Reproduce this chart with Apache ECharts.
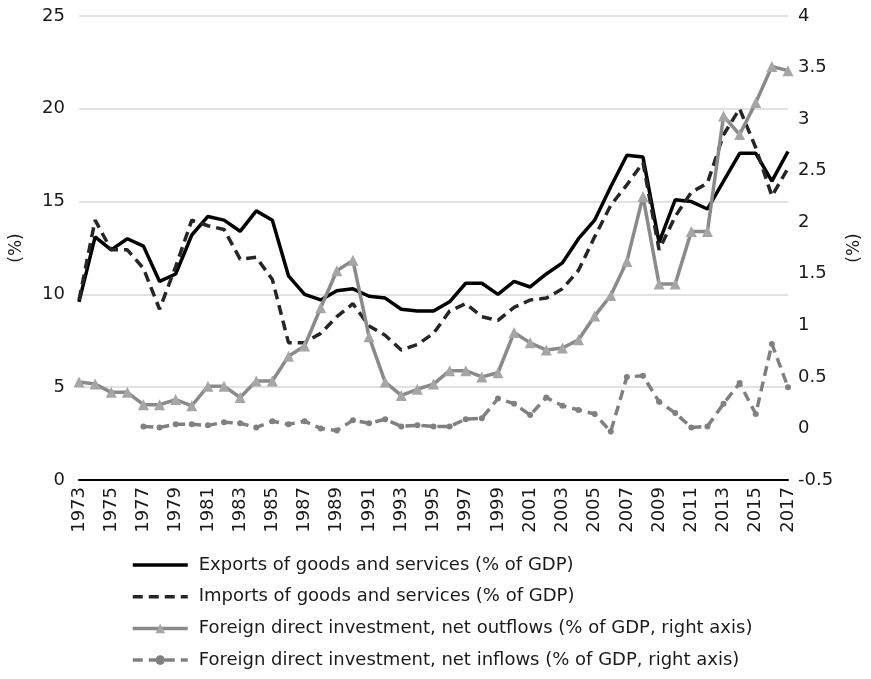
<!DOCTYPE html>
<html><head><meta charset="utf-8">
<script src="https://cdn.jsdelivr.net/npm/echarts@6/dist/echarts.min.js"></script>
<style>html,body{margin:0;padding:0;background:#fff}#c{width:871px;height:679px}</style>
</head><body><div id="c"></div>
<script>
const years = [];
for (let y = 1973; y <= 2017; y++) years.push(String(y));
const exportsGDP = [9.6,13.1,12.4,13.0,12.6,10.7,11.1,13.2,14.2,14.0,13.4,14.5,14.0,11.0,10.0,9.7,10.2,10.3,9.9,9.8,9.2,9.1,9.1,9.6,10.6,10.6,10.0,10.7,10.4,11.1,11.7,13.0,14.0,15.8,17.5,17.4,12.8,15.1,15.0,14.6,16.1,17.6,17.6,16.1,17.7];
const importsGDP = [9.7,14.0,12.4,12.4,11.4,9.2,11.5,14.0,13.7,13.5,11.9,12.0,10.8,7.4,7.4,7.9,8.8,9.5,8.3,7.8,7.0,7.3,7.9,9.1,9.5,8.8,8.6,9.3,9.7,9.8,10.3,11.3,13.1,14.8,15.9,17.1,12.4,14.2,15.5,16.0,18.6,20.0,17.9,15.3,16.8];
const fdiOut = [0.45,0.43,0.35,0.35,0.23,0.23,0.28,0.22,0.41,0.41,0.30,0.46,0.46,0.70,0.80,1.17,1.53,1.63,0.89,0.45,0.32,0.38,0.43,0.56,0.56,0.50,0.54,0.93,0.83,0.76,0.78,0.86,1.09,1.29,1.62,2.25,1.40,1.40,1.91,1.91,3.03,2.85,3.16,3.51,3.47];
const fdiIn = [null,null,null,null,0.02,0.01,0.04,0.04,0.03,0.06,0.05,0.01,0.07,0.04,0.07,0.00,-0.02,0.08,0.05,0.09,0.02,0.03,0.02,0.02,0.09,0.10,0.29,0.24,0.13,0.30,0.22,0.18,0.14,-0.03,0.50,0.51,0.26,0.15,0.01,0.02,0.24,0.44,0.14,0.82,0.40];
const names = ['Exports of goods and services (% of GDP)','Imports of goods and services (% of GDP)','Foreign direct investment, net outflows (% of GDP, right axis)','Foreign direct investment, net inflows (% of GDP, right axis)'];

const font = 'DejaVu Sans, sans-serif';
const txt = '#1a1a1a';
const chart = echarts.init(document.getElementById('c'));
chart.setOption({
  animation:false,
  textStyle:{fontFamily:font},
  grid:{left:78,right:76,top:16,bottom:199},
  legend:{orient:'vertical',left:131,top:556,bottom:0,padding:0,itemGap:13.7,itemWidth:55,itemHeight:12,
    lineStyle:{width:3.5},
    textStyle:{fontSize:18,lineHeight:18,color:txt,fontFamily:font,padding:[0,0,0,6]},
    data:[{name:names[0],itemStyle:{opacity:0}},{name:names[1],itemStyle:{opacity:0}},{name:names[2]},{name:names[3]}]},
  xAxis:{type:'category',data:years,boundaryGap:false,
    axisLine:{lineStyle:{color:'#000',width:2}},axisTick:{show:false},
    axisLabel:{rotate:90,interval:1,fontSize:18,color:txt,margin:7,fontFamily:font}},
  yAxis:[
    {type:'value',min:0,max:25,interval:5,name:'(%)',nameLocation:'middle',nameGap:54,nameRotate:90,
     nameTextStyle:{fontSize:17,color:txt,fontFamily:font},
     axisLine:{show:false},axisTick:{show:false},
     axisLabel:{fontSize:18,color:txt,margin:14,fontFamily:font},
     splitLine:{lineStyle:{color:'#d9d9d9',width:1.5}}},
    {type:'value',min:-0.5,max:4,interval:0.5,name:'(%)',nameLocation:'middle',nameGap:58,nameRotate:90,
     nameTextStyle:{fontSize:17,color:txt,fontFamily:font},
     axisLine:{show:false},axisTick:{show:false},splitLine:{show:false},
     axisLabel:{fontSize:18,color:txt,margin:10,fontFamily:font}}
  ],
  series:[
    {name:names[0],type:'line',data:exportsGDP,yAxisIndex:0,symbol:'none',
     lineStyle:{color:'#000',width:3.5},itemStyle:{color:'#000'}},
    {name:names[1],type:'line',data:importsGDP,yAxisIndex:0,symbol:'none',
     lineStyle:{color:'#262626',width:3.5,type:[10,6]},itemStyle:{color:'#262626'}},
    {name:names[2],type:'line',data:fdiOut,yAxisIndex:1,symbol:'triangle',symbolSize:11,showAllSymbol:true,
     lineStyle:{color:'#8a8a8a',width:3.5},itemStyle:{color:'#a6a6a6'}},
    {name:names[3],type:'line',data:fdiIn,yAxisIndex:1,symbol:'circle',symbolSize:6,showAllSymbol:true,
     lineStyle:{color:'#808080',width:3.5,type:[10,6]},itemStyle:{color:'#808080'}}
  ]
});
</script></body></html>
